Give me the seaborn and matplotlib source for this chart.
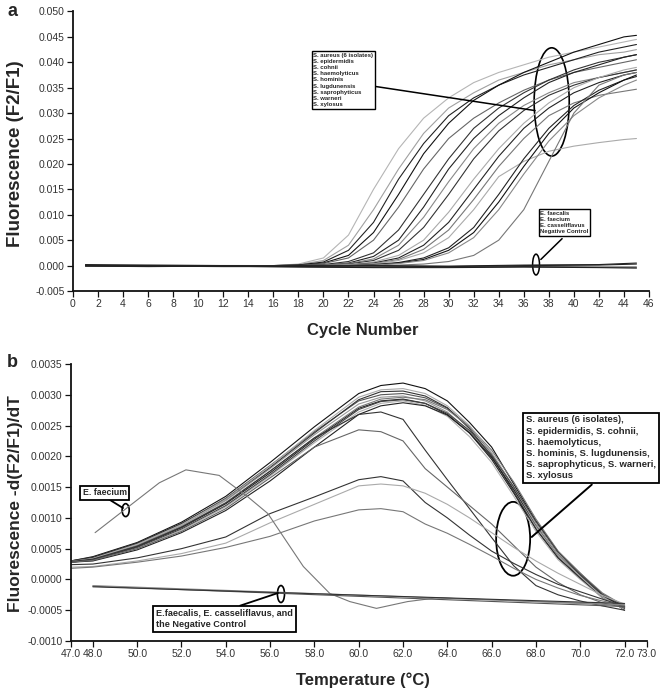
import numpy as np
import pandas as pd
import matplotlib
matplotlib.use('Agg')
import matplotlib.pyplot as plt
from matplotlib.patches import Ellipse
import seaborn as sns

# === Panel a: amplification curves, fluorescence in units of 1e-3 ===
cycles = [1, 16, 18, 20, 22, 24, 26, 28, 30, 32, 34, 36, 38, 40, 42, 44, 45]
amp01 = [0.1, 0.0, 0.3, 1.5, 6.0, 15.0, 23.0, 29.0, 33.0, 36.0, 38.0, 39.5, 41.0, 42.0, 43.0, 44.0, 44.5]
amp02 = [0.0, 0.0, 0.2, 1.0, 4.0, 11.0, 19.0, 26.0, 31.0, 34.0, 36.5, 38.0, 39.5, 40.5, 41.5, 42.0, 42.5]
amp03 = [0.0, 0.0, 0.1, 0.7, 3.0, 8.5, 17.0, 24.0, 29.5, 33.0, 35.5, 37.5, 39.0, 40.5, 42.0, 43.0, 43.5]
amp04 = [0.0, 0.0, 0.1, 0.5, 2.0, 6.5, 14.0, 22.0, 28.0, 32.5, 35.5, 38.0, 40.0, 42.0, 43.5, 45.0, 45.3]
amp05 = [0.0, 0.0, 0.0, 0.4, 1.5, 5.0, 11.5, 19.0, 25.0, 29.0, 32.0, 34.5, 36.5, 38.0, 39.0, 40.0, 40.5]
amp06 = [0.0, 0.0, 0.0, 0.2, 0.8, 2.5, 7.0, 14.0, 21.0, 27.0, 31.0, 34.0, 36.5, 38.5, 40.0, 41.0, 41.5]
amp07 = [0.0, 0.0, 0.0, 0.1, 0.5, 1.8, 5.0, 11.5, 19.0, 25.0, 29.5, 33.0, 36.0, 38.0, 39.5, 41.0, 41.5]
amp08 = [0.0, 0.0, 0.0, 0.1, 0.4, 1.3, 4.0, 9.5, 16.5, 23.0, 28.0, 31.5, 34.0, 36.0, 37.0, 38.0, 38.5]
amp09 = [0.0, 0.0, 0.0, 0.0, 0.3, 1.0, 3.0, 7.5, 14.0, 21.0, 26.5, 30.5, 33.5, 35.5, 37.0, 38.0, 38.5]
amp10 = [0.0, 0.0, 0.0, 0.0, 0.2, 0.7, 2.0, 5.0, 10.5, 17.0, 23.0, 28.0, 32.0, 35.0, 37.0, 38.5, 39.0]
amp11 = [0.0, 0.0, 0.0, 0.0, 0.1, 0.5, 1.5, 4.0, 8.5, 15.0, 21.5, 27.0, 31.0, 34.0, 36.0, 37.5, 38.0]
amp12 = [0.0, 0.0, 0.0, 0.0, 0.1, 0.4, 1.2, 3.2, 7.0, 13.0, 19.5, 25.0, 29.5, 32.0, 33.5, 34.3, 34.7]
amp13 = [0.0, 0.0, 0.0, 0.0, 0.1, 0.3, 1.0, 2.5, 5.5, 11.0, 17.5, 20.5, 22.5, 23.5, 24.2, 24.8, 25.0]
amp14 = [0.0, 0.0, 0.0, 0.0, 0.0, 0.2, 0.6, 1.5, 3.5, 7.5, 14.0, 21.0, 27.0, 31.5, 34.5, 36.5, 37.2]
amp15 = [0.0, 0.0, 0.0, 0.0, 0.0, 0.1, 0.5, 1.2, 3.0, 6.5, 12.5, 19.5, 26.0, 31.0, 34.0, 36.5, 37.5]
amp16 = [0.0, 0.0, 0.0, 0.0, 0.0, 0.1, 0.4, 1.0, 2.5, 5.5, 11.0, 18.0, 24.5, 29.5, 33.0, 35.5, 36.5]
amp17 = [0.0, 0.0, 0.0, 0.0, 0.0, 0.0, 0.1, 0.3, 0.8, 2.0, 5.0, 11.0, 20.5, 30.0, 35.5, 37.5, 38.0]
amp_list = [amp01, amp02, amp03, amp04, amp05, amp06, amp07, amp08, amp09,
            amp10, amp11, amp12, amp13, amp14, amp15, amp16, amp17]
amp_cols = ['#b5b5b5', '#a0a0a0', '#222222', '#111111', '#666666', '#333333',
            '#222222', '#888888', '#333333', '#aaaaaa', '#222222', '#777777',
            '#aaaaaa', '#222222', '#111111', '#888888', '#777777']

# negatives / enterococci, flat near zero
neg_cycles = [1, 6, 12, 18, 24, 30, 36, 42, 45]
neg1 = [0.2, 0.0, -0.1, 0.0, -0.1, -0.2, 0.0, 0.1, 0.3]
neg2 = [0.0, -0.1, -0.2, -0.2, -0.3, -0.3, -0.2, -0.3, -0.3]
neg3 = [0.1, 0.1, 0.0, -0.1, 0.0, -0.1, 0.1, 0.2, 0.5]
neg4 = [-0.1, -0.2, -0.1, -0.3, -0.4, -0.4, -0.3, -0.4, -0.5]
neg_list = [neg1, neg2, neg3, neg4]

# === Panel b: melting curves, -d(F2/F1)/dT in units of 1e-4 ===
temps = [47, 48, 50, 52, 54, 56, 58, 60, 61, 62, 63, 64, 65, 66, 67, 68, 69, 70, 71, 72]
mc01 = [3.0, 3.7, 6.0, 9.3, 13.5, 19.0, 24.8, 30.2, 31.5, 31.9, 31.0, 29.0, 25.5, 21.5, 15.5, 9.5, 4.5, 1.0, -2.5, -5.0]
mc02 = [3.0, 3.5, 5.8, 9.0, 13.2, 18.5, 24.0, 29.0, 30.0, 30.2, 29.5, 27.8, 24.8, 20.5, 15.0, 9.0, 4.0, 0.8, -2.5, -4.8]
mc03 = [2.9, 3.4, 5.6, 8.8, 12.8, 18.0, 23.5, 28.5, 29.6, 29.8, 29.0, 27.2, 24.0, 20.0, 14.5, 8.6, 3.8, 0.5, -2.8, -4.6]
mc04 = [2.8, 3.2, 5.3, 8.4, 12.3, 17.3, 22.8, 27.8, 29.0, 29.3, 28.6, 26.8, 23.8, 19.5, 14.0, 8.2, 3.5, 0.3, -3.0, -4.5]
mc05 = [2.8, 3.1, 5.0, 8.0, 11.8, 16.8, 22.2, 27.2, 28.6, 29.0, 28.3, 26.5, 23.2, 19.0, 13.5, 7.8, 3.2, 0.0, -3.0, -4.4]
mc06 = [3.0, 3.6, 5.9, 9.1, 13.0, 18.2, 23.8, 29.2, 30.5, 30.6, 29.8, 27.9, 24.5, 20.0, 14.2, 8.2, 3.5, 0.2, -2.8, -4.7]
mc07 = [2.9, 3.3, 5.5, 8.6, 12.5, 17.6, 23.0, 28.0, 29.3, 29.6, 29.2, 27.6, 24.8, 21.0, 15.8, 9.8, 4.6, 1.0, -2.2, -4.3]
mc08 = [2.8, 3.0, 4.8, 7.6, 11.2, 16.0, 21.5, 26.8, 28.2, 28.7, 28.2, 26.7, 23.8, 19.8, 14.6, 8.9, 4.0, 0.6, -2.6, -4.5]
mc09 = [2.9, 3.4, 5.7, 8.9, 13.0, 18.4, 24.2, 29.6, 30.8, 31.0, 30.2, 28.2, 25.0, 20.6, 15.0, 9.0, 4.0, 0.5, -2.8, -4.9]
mc10 = [2.8, 3.2, 5.2, 8.2, 12.0, 17.0, 22.5, 27.6, 28.9, 29.2, 28.6, 27.0, 24.2, 20.2, 15.0, 9.4, 4.4, 0.8, -2.4, -4.4]
mc11 = [2.9, 3.3, 5.4, 8.5, 12.4, 17.6, 23.0, 26.8, 27.2, 26.0, 21.0, 16.2, 11.5, 6.8, 2.2, -1.0, -2.5, -3.5, -4.3, -5.0]
mc12 = [2.8, 3.1, 5.0, 7.8, 11.5, 16.5, 21.5, 24.3, 24.0, 22.5, 18.0, 15.0, 12.0, 9.0, 5.5, 2.0, -0.5, -2.5, -3.8, -4.6]
mc13 = [2.4, 2.5, 3.5, 5.0, 6.9, 10.7, 13.4, 16.2, 16.7, 16.0, 12.5, 10.0, 7.2, 4.6, 2.6, 0.8, -0.8, -2.0, -3.2, -4.4]
mc14 = [2.0, 2.1, 3.0, 4.2, 5.9, 9.2, 12.2, 15.2, 15.5, 15.2, 14.0, 12.2, 10.0, 7.6, 5.2, 3.0, 1.0, -0.8, -2.6, -4.0]
mc15 = [1.8, 2.0, 2.8, 3.8, 5.2, 7.0, 9.5, 11.3, 11.5, 11.0, 9.0, 7.5, 5.7, 3.8, 1.8, 0.0, -1.4, -2.6, -3.5, -4.2]
mc_list = [mc01, mc02, mc03, mc04, mc05, mc06, mc07, mc08, mc09, mc10,
           mc11, mc12, mc13, mc14, mc15]
mc_cols = ['#111111', '#555555', '#999999', '#222222', '#b0b0b0', '#333333',
           '#777777', '#222222', '#aaaaaa', '#444444', '#333333', '#666666',
           '#333333', '#aaaaaa', '#777777']

faecium_t = [48.1, 51.0, 52.2, 53.7, 55.0, 55.9, 57.5, 58.7, 59.6, 60.8, 62.2, 63.5, 66.0, 68.0, 70.0, 72.0]
faecium_v = [7.6, 15.7, 17.8, 16.9, 13.4, 10.7, 2.1, -2.3, -3.6, -4.7, -3.6, -3.0, -3.3, -3.6, -3.9, -4.2]
negb_t = [48.0, 72.0]
negb1 = [-1.1, -4.4]
negb2 = [-1.0, -4.1]
negb3 = [-1.2, -3.9]

# === Build long tables ===
rows = []
for i, vals in enumerate(amp_list):
    for c, v in zip(cycles, vals):
        rows.append(('amp%02d' % i, c, v * 1e-3))
for i, vals in enumerate(neg_list):
    for c, v in zip(neg_cycles, vals):
        rows.append(('neg%02d' % i, c, v * 1e-3))
df_a = pd.DataFrame(rows, columns=['curve', 'cycle', 'fluor'])
pal_a = {'amp%02d' % i: col for i, col in enumerate(amp_cols)}
pal_a.update({'neg%02d' % i: '#222222' for i in range(len(neg_list))})

rows = []
for i, vals in enumerate(mc_list):
    for t, v in zip(temps, vals):
        rows.append(('mc%02d' % i, t, v * 1e-4))
for t, v in zip(faecium_t, faecium_v):
    rows.append(('faecium', t, v * 1e-4))
for i, vals in enumerate([negb1, negb2, negb3]):
    for t, v in zip(negb_t, vals):
        rows.append(('negb%d' % i, t, v * 1e-4))
df_b = pd.DataFrame(rows, columns=['curve', 'temp', 'deriv'])
pal_b = {'mc%02d' % i: col for i, col in enumerate(mc_cols)}
pal_b['faecium'] = '#777777'
pal_b.update({'negb0': '#555555', 'negb1': '#888888', 'negb2': '#333333'})

# === Figure ===
sns.set_style('ticks')
plt.rcParams['font.family'] = ['Liberation Sans', 'DejaVu Sans']
fig = plt.figure(figsize=(6.64, 6.95), dpi=100)
ax_a = fig.add_axes([0.1099, 0.5813, 0.8675, 0.4022])
ax_b = fig.add_axes([0.1065, 0.0777, 0.8675, 0.3986])

sns.lineplot(data=df_a, x='cycle', y='fluor', hue='curve', palette=pal_a,
             estimator=None, sort=False, legend=False, linewidth=0.8, ax=ax_a)
sns.lineplot(data=df_b, x='temp', y='deriv', hue='curve', palette=pal_b,
             estimator=None, sort=False, legend=False, linewidth=0.8, ax=ax_b)

for ax in (ax_a, ax_b):
    sns.despine(ax=ax)
    for s in ('left', 'bottom'):
        ax.spines[s].set_linewidth(1.3)
        ax.spines[s].set_color('#111111')
    ax.tick_params(direction='out', length=4, width=0.9, pad=2,
                   labelsize=7.5, colors='#111111', labelcolor='#333333')
    ax.set_xlabel('')
    ax.set_ylabel('')

ax_a.set_xlim(0, 46)
ax_a.set_ylim(-0.005, 0.050)
ax_a.set_xticks(np.arange(0, 47, 2))
ax_a.set_yticks(np.arange(-0.005, 0.0501, 0.005))
ax_a.set_yticklabels(['%.3f' % v for v in np.arange(-0.005, 0.0501, 0.005)])

ax_b.set_xlim(47, 73)
ax_b.set_ylim(-0.0010, 0.0035)
xt_b = [47, 48, 50, 52, 54, 56, 58, 60, 62, 64, 66, 68, 70, 72, 73]
ax_b.set_xticks(xt_b)
ax_b.set_xticklabels(['%.1f' % v for v in xt_b])
yt_b = np.arange(-0.0010, 0.00351, 0.0005)
ax_b.set_yticks(yt_b)
ax_b.set_yticklabels(['%.4f' % v for v in yt_b])

# === Annotations panel a ===
box = dict(boxstyle='square,pad=0.25', fc='white', ec='black', lw=1.0)
ax_a.text(19.2, 0.0419, 'S. aureus (6 isolates)\nS. epidermidis\nS. cohnii\nS. haemolyticus\n'
          'S. hominis\nS. lugdunensis\nS. saprophyticus\nS. warneri\nS. xylosus',
          fontsize=4.3, fontweight='bold', ha='left', va='top', linespacing=1.3, bbox=box)
ax_a.plot([24.0, 36.9], [0.0353, 0.0305], color='black', lw=1.1)
ax_a.add_patch(Ellipse((38.23, 0.0322), 2.8, 0.0213, fill=False, ec='black', lw=1.2))
ax_a.text(37.3, 0.0108, 'E. faecalis\nE. faecium\nE. casseliflavus\nNegative Control',
          fontsize=4.3, fontweight='bold', ha='left', va='top', linespacing=1.3, bbox=box)
ax_a.plot([39.06, 37.36], [0.0053, 0.0012], color='black', lw=1.1)
ax_a.add_patch(Ellipse((36.98, 0.0002), 0.55, 0.0041, fill=False, ec='black', lw=1.1))

# === Annotations panel b ===
box_b = dict(boxstyle='square,pad=0.3', fc='white', ec='black', lw=1.3)
ax_b.text(48.53, 0.001407, 'E. faecium', fontsize=6.3, fontweight='bold',
          ha='center', va='center', bbox=box_b)
ax_b.plot([48.64, 49.36], [0.00132, 0.00116], color='black', lw=1.3)
ax_b.add_patch(Ellipse((49.48, 0.001126), 0.32, 0.00021, fill=False, ec='black', lw=1.2))

ax_b.text(50.85, -0.000646, 'E.faecalis, E. casseliflavus, and\nthe Negative Control',
          fontsize=6.6, fontweight='bold', ha='left', va='center', linespacing=1.35, bbox=box_b)
ax_b.plot([54.64, 56.36], [-0.000427, -0.00022], color='black', lw=1.3)
ax_b.add_patch(Ellipse((56.49, -0.000237), 0.32, 0.000276, fill=False, ec='black', lw=1.2))

ax_b.text(67.56, 0.00214, 'S. aureus (6 isolates),\nS. epidermidis, S. cohnii,\nS. haemolyticus,\n'
          'S. hominis, S. lugdunensis,\nS. saprophyticus, S. warneri,\nS. xylosus',
          fontsize=6.8, fontweight='bold', ha='left', va='center', linespacing=1.3, bbox=box_b)
ax_b.plot([70.52, 67.81], [0.00154, 0.00069], color='black', lw=1.4)
ax_b.add_patch(Ellipse((66.97, 0.00066), 1.535, 0.0012, fill=False, ec='black', lw=1.3))

# === Labels ===
fig.text(0.024, 0.779, 'Fluorescence (F2/F1)', rotation=90, fontsize=13.5,
         fontweight='bold', ha='center', va='center')
fig.text(0.024, 0.2748, 'Fluorescence -d(F2/F1)/dT', rotation=90, fontsize=12.5,
         fontweight='bold', ha='center', va='center')
fig.text(0.547, 0.525, 'Cycle Number', fontsize=12, fontweight='bold', ha='center', va='center')
fig.text(0.546, 0.0216, 'Temperature (\u00b0C)', fontsize=12, fontweight='bold',
         ha='center', va='center')
fig.text(0.0195, 0.984, 'a', fontsize=13, fontweight='bold', ha='center', va='center')
fig.text(0.018, 0.478, 'b', fontsize=13, fontweight='bold', ha='center', va='center')

plt.savefig('out.png', dpi=100)
